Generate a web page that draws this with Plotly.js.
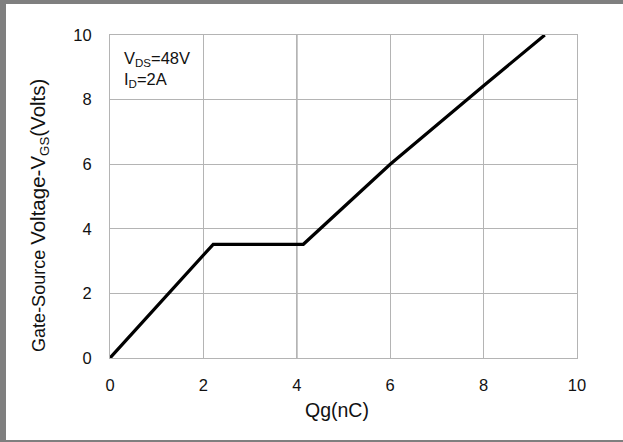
<!DOCTYPE html>
<html>
<head>
<meta charset="utf-8">
<script src="https://cdn.plot.ly/plotly-3.0.1.min.js"></script>
<style>
  html, body { margin: 0; padding: 0; background: #fff; }
  #wrap { position: relative; width: 623px; height: 442px; overflow: hidden; }
  #chart { position: absolute; left: 0; top: 0; width: 623px; height: 442px; }
  #frame { position: absolute; left: 0; top: 0; width: 623px; height: 442px; box-sizing: border-box;
           border-left: 6px solid #7f7f7f; border-top: 4px solid #7f7f7f; border-bottom: 2px solid #7f7f7f;
           pointer-events: none; }
</style>
</head>
<body>
<div id="wrap">
  <div id="chart"></div>
  <div id="frame"></div>
</div>
<script>
// Gate charge curve
const qg = [0, 1.26, 2.21, 4.14, 5.0, 6.0, 8.0, 9.31];
const vgs = [0, 2.0, 3.52, 3.52, 4.68, 6.0, 8.43, 10.0];
const xTicks = [0, 2, 4, 6, 8, 10];
const yTicks = [0, 2, 4, 6, 8, 10];
const xTitle = 'Qg(nC)';
const condLines = ['V<sub>DS</sub>=48V', 'I<sub>D</sub>=2A'];

const font = 'Arial, "Liberation Sans", sans-serif';
const trace = {
  x: qg, y: vgs, type: 'scatter', mode: 'lines',
  line: { color: '#000', width: 3.2 }, hoverinfo: 'skip'
};
const layout = {
  width: 623, height: 442,
  margin: { l: 110, r: 46, t: 35, b: 84 },
  paper_bgcolor: '#fff', plot_bgcolor: '#fff',
  showlegend: false,
  font: { family: font, color: '#111', size: 16 },
  xaxis: {
    range: [0, 10], tickvals: xTicks, ticktext: xTicks.map(String),
    showgrid: true, gridcolor: '#b4b4b4', gridwidth: 1,
    zeroline: false, showline: true, linecolor: '#b4b4b4', linewidth: 1, mirror: true,
    ticks: 'outside', ticklen: 12, tickcolor: 'rgba(0,0,0,0)',
    tickfont: { size: 16.5 },
    title: { text: '', font: { size: 19 } }
  },
  yaxis: {
    range: [0, 10], tickvals: yTicks, ticktext: yTicks.map(String),
    showgrid: true, gridcolor: '#b4b4b4', gridwidth: 1,
    zeroline: false, showline: true, linecolor: '#b4b4b4', linewidth: 1, mirror: true,
    ticks: 'outside', ticklen: 14, tickcolor: 'rgba(0,0,0,0)',
    tickfont: { size: 16.5 }
  },
  shapes: [
    { type: 'line', xref: 'x', yref: 'paper', x0: 4, x1: 4, y0: 0, y1: 1,
      line: { color: '#8a8a8a', width: 1.3 }, layer: 'below' }
  ],
  annotations: [
    { xref: 'paper', yref: 'paper', x: 0.025, y: 0.925, xanchor: 'left', yanchor: 'middle',
      text: condLines[0], showarrow: false, font: { size: 16.5, color: '#111' } },
    { xref: 'paper', yref: 'paper', x: 0.025, y: 0.862, xanchor: 'left', yanchor: 'middle',
      text: condLines[1], showarrow: false, font: { size: 16.5, color: '#111' } },
    { xref: 'paper', yref: 'paper', x: 0.486, y: -0.16, xanchor: 'center', yanchor: 'middle',
      text: xTitle, showarrow: false, font: { size: 19.5, color: '#111' } },
    { xref: 'paper', yref: 'paper', x: -0.152, y: 0.44, xanchor: 'center', yanchor: 'middle',
      textangle: -90, showarrow: false,
      text: '<span style="font-size:18px">Gate-Source </span><span style="font-size:20.5px">Voltage-V</span><sub>GS</sub><span style="font-size:20.5px">(Volts)</span>',
      font: { size: 19, color: '#111' } }
  ]
};
Plotly.newPlot('chart', [trace], layout, { displayModeBar: false, staticPlot: true });
</script>
</body>
</html>
